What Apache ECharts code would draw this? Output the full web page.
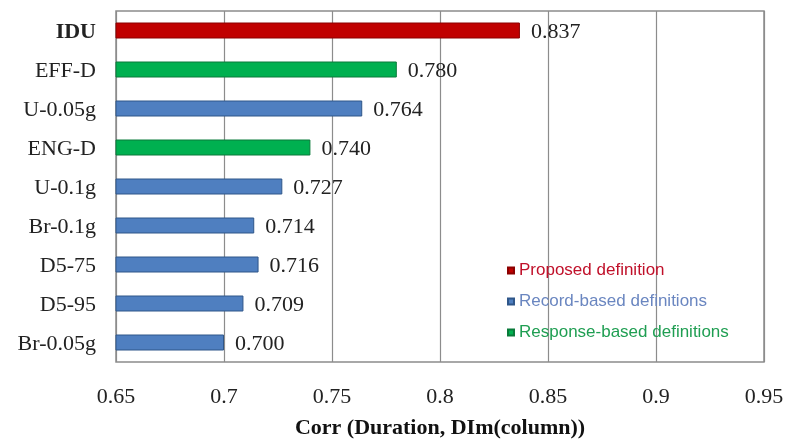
<!DOCTYPE html>
<html><head><meta charset="utf-8">
<script src="https://cdn.jsdelivr.net/npm/echarts@6/dist/echarts.min.js"></script>
<style>html,body{margin:0;padding:0;background:#fff}#c{width:789px;height:445px}</style>
</head><body><div id="c"></div>
<script>
const categories = ['IDU','EFF-D','U-0.05g','ENG-D','U-0.1g','Br-0.1g','D5-75','D5-95','Br-0.05g'];
const values = [0.837,0.780,0.764,0.740,0.727,0.714,0.716,0.709,0.700];
const groups = ['P','S','R','S','R','R','R','R','R'];
const seriesNames = {P:'Proposed definition', R:'Record-based definitions', S:'Response-based definitions'};
const xTicks = [0.65,0.7,0.75,0.8,0.85,0.9,0.95];
const xName = 'Corr (Duration, DIm(column))';

const fill = {P:'#c00000', R:'#4f7fc0', S:'#00b050'};
const edge = {P:'#8b0000', R:'#2f5689', S:'#0a7a3a'};
const txt = {P:'#c0102a', R:'#6a86c0', S:'#1f9e52'};

const chart = echarts.init(document.getElementById('c'));
const series = ['P','R','S'].map(g => ({
  name: seriesNames[g],
  type: 'bar',
  stack: 'all',
  barWidth: 16,
  data: values.map((v,i) => groups[i]===g ? v : '-'),
  itemStyle: {color: fill[g], borderColor: edge[g], borderWidth: 1},
  label: {show: true, position: 'right', distance: 11, offset: [0, 2], color: '#222',
    fontFamily: 'Liberation Serif', fontSize: 22,
    formatter: p => Number(p.value).toFixed(3)}
}));
chart.setOption({
  animation: false,
  grid: {left: 116, top: 11, right: 25, bottom: 83, show: true, borderColor: '#8c8c8c', borderWidth: 1.5},
  legend: {
    orient: 'vertical', left: 502, top: 257, itemGap: 14,
    icon: 'rect', itemWidth: 6, itemHeight: 6,
    textStyle: {fontFamily: 'Liberation Sans', fontSize: 17},
    data: ['P','R','S'].map(g => ({name: seriesNames[g], textStyle: {color: txt[g]}}))
  },
  xAxis: {
    type: 'value', min: xTicks[0], max: xTicks[xTicks.length-1], interval: 0.05,
    name: xName, nameLocation: 'middle', nameGap: 55,
    nameTextStyle: {fontFamily: 'Liberation Serif', fontSize: 22, fontWeight: 'bold', color: '#111'},
    axisLine: {show: false}, axisTick: {show: false},
    axisLabel: {margin: 24, fontFamily: 'Liberation Serif', fontSize: 22, color: '#222',
      formatter: v => String(parseFloat(v.toFixed(2)))},
    splitLine: {lineStyle: {color: '#8c8c8c', width: 1.2}}
  },
  yAxis: {
    type: 'category', data: categories, inverse: true,
    axisLine: {show: false}, axisTick: {show: false},
    axisLabel: {margin: 20, padding: [4, 0, 0, 0], fontFamily: 'Liberation Serif', fontSize: 22, color: '#222',
      formatter: v => v === 'IDU' ? '{b|' + v + '}' : v,
      rich: {b: {fontWeight: 'bold', fontFamily: 'Liberation Serif', fontSize: 22, color: '#222'}}}
  },
  series: series
});
</script></body></html>
